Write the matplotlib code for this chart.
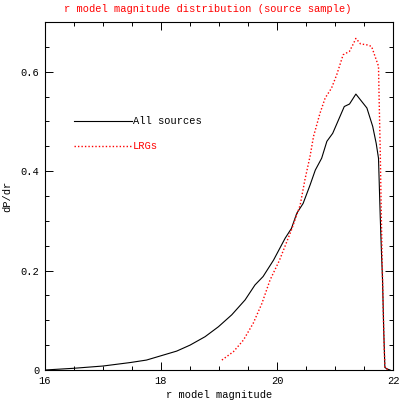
import matplotlib
matplotlib.use("Agg")
import matplotlib.pyplot as plt
from matplotlib.ticker import MultipleLocator

all_mag = [16.0, 16.49, 17.0, 17.47, 17.75, 18.01, 18.27, 18.5, 18.76, 18.99, 19.22,
           19.45, 19.62, 19.76, 19.94, 20.04, 20.14, 20.25, 20.34, 20.45, 20.57, 20.66,
           20.77, 20.86, 20.96, 21.16, 21.25, 21.36, 21.55, 21.65, 21.71, 21.75, 21.78,
           21.80, 21.82, 21.84, 21.86, 21.9, 21.95]
all_val = [0.0, 0.0034, 0.008, 0.015, 0.02, 0.029, 0.038, 0.05, 0.067, 0.087, 0.111,
           0.141, 0.171, 0.188, 0.221, 0.243, 0.265, 0.285, 0.315, 0.335, 0.372, 0.402,
           0.426, 0.46, 0.476, 0.530, 0.535, 0.555, 0.527, 0.49, 0.456, 0.426, 0.308,
           0.24, 0.18, 0.08, 0.005, 0.002, 0.0]

lrg_mag = [19.05, 19.25, 19.42, 19.59, 19.74, 19.88, 20.04, 20.25, 20.40, 20.48, 20.57,
           20.63, 20.74, 20.83, 20.94, 21.03, 21.14, 21.25, 21.32, 21.36, 21.44, 21.55,
           21.63, 21.69, 21.75, 21.76, 21.78, 21.80, 21.82, 21.84, 21.86, 21.92]
lrg_val = [0.02, 0.037, 0.06, 0.094, 0.134, 0.181, 0.22, 0.282, 0.332, 0.382, 0.43,
           0.47, 0.516, 0.547, 0.567, 0.594, 0.634, 0.641, 0.657, 0.667, 0.656, 0.654,
           0.651, 0.631, 0.611, 0.55, 0.44, 0.30, 0.18, 0.08, 0.005, 0.0]

font = "Liberation Mono"
fs = 7.5

fig = plt.figure(figsize=(4.15, 4.15), dpi=100)
ax = fig.add_axes([45/415, 45/415, 348/415, 348/415])
ax.plot(all_mag, all_val, color="black", lw=0.8)
ax.plot(lrg_mag, lrg_val, color="red", lw=1.0, ls=(0, (1, 1.5)))

# legend
ax.plot([16.5, 17.5], [0.5, 0.5], color="black", lw=0.8)
ax.text(17.52, 0.5, "All sources", color="black", fontsize=fs, family=font, va="center")
ax.plot([16.5, 17.5], [0.45, 0.45], color="red", lw=1.0, ls=(0, (1, 1.5)))
ax.text(17.52, 0.45, "LRGs", color="red", fontsize=fs, family=font, va="center")

ax.set_xlim(16, 22)
ax.set_ylim(0, 0.7)
ax.xaxis.set_major_locator(MultipleLocator(2))
ax.xaxis.set_minor_locator(MultipleLocator(0.5))
ax.yaxis.set_major_locator(MultipleLocator(0.2))
ax.yaxis.set_minor_locator(MultipleLocator(0.05))
ax.tick_params(which="both", direction="in", top=True, right=True, width=0.7,
               labelsize=fs, pad=4)
ax.tick_params(which="major", length=5.5)
ax.tick_params(which="minor", length=3)
ax.set_xticks([16, 18, 20, 22], ["16", "18", "20", "22"])
ax.set_yticks([0, 0.2, 0.4, 0.6], ["0", "0.2", "0.4", "0.6"])
for lab in ax.get_xticklabels() + ax.get_yticklabels():
    lab.set_family(font)
for s in ax.spines.values():
    s.set_linewidth(0.8)

ax.set_xlabel("r model magnitude", fontsize=fs, family=font, labelpad=3)
ax.set_ylabel("dP/dr", fontsize=fs, family=font, labelpad=6)
fig.text(0.5, 1 - 9/415, "r model magnitude distribution (source sample)", color="red",
         fontsize=fs, family=font, ha="center", va="center")

fig.savefig("out.png", dpi=100)
